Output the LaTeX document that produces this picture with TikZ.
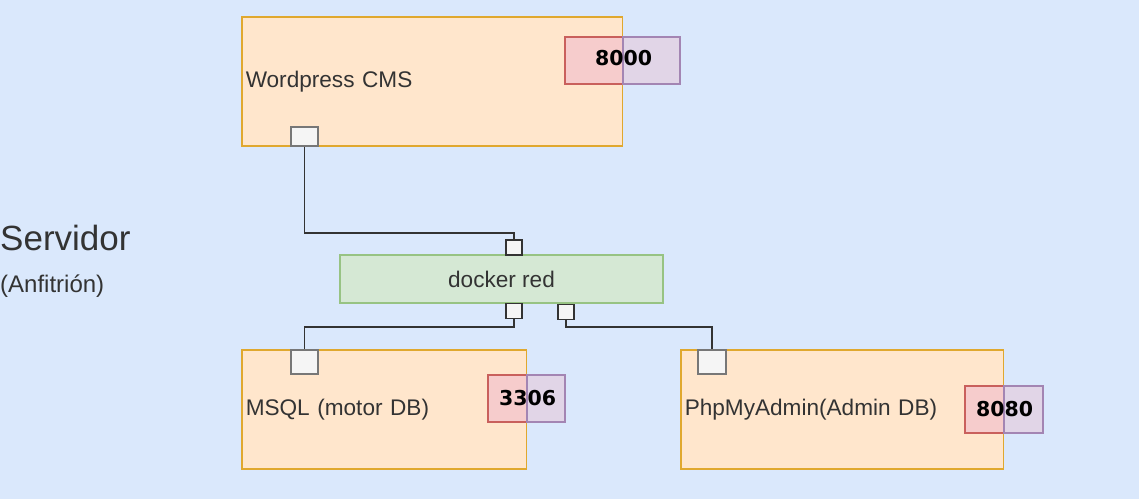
\documentclass[tikz,border=0pt]{standalone}
\usepackage{fontspec}
\setmainfont{Liberation Sans}
\newfontfamily\numfont{DejaVu Sans}
\definecolor{fondo}{HTML}{DAE8FC}
\definecolor{naranja}{HTML}{FFE6CC}
\definecolor{naranjaB}{HTML}{E0A82E}
\definecolor{verde}{HTML}{D5E8D4}
\definecolor{verdeB}{HTML}{97C383}
\definecolor{rojo}{HTML}{F6CCCC}
\definecolor{rojoB}{HTML}{C9605C}
\definecolor{morado}{HTML}{E1D5E7}
\definecolor{moradoB}{HTML}{A385B3}
\definecolor{gris}{HTML}{F5F5F5}
\definecolor{grisB}{HTML}{777777}
\definecolor{linea}{HTML}{333333}
\begin{document}
\begin{tikzpicture}[x=1pt,y=-1pt]
	\tikzstyle{servicio}=[rectangle,draw=naranjaB,fill=naranja,line width=1.5pt,inner xsep=4pt,inner ysep=0pt,align=left,text=linea,font=\fontsize{22.6}{26}\selectfont]
	\tikzstyle{redbox}=[rectangle,draw=verdeB,fill=verde,line width=1.2pt,minimum width=323pt,minimum height=48pt,text=linea,font=\fontsize{22.6}{26}\selectfont]
	\tikzstyle{socket}=[rectangle,draw=grisB,fill=gris,line width=1.5pt,inner sep=0pt]
	\tikzstyle{pin}=[rectangle,draw=linea,fill=gris,line width=1.2pt,inner sep=0pt,minimum width=16pt,minimum height=15pt]
	\tikzstyle{pinin}=[rectangle,draw=rojoB,fill=rojo,line width=1.2pt,inner sep=0pt,minimum height=47pt]
	\tikzstyle{pinout}=[rectangle,draw=moradoB,fill=morado,line width=1.2pt,inner sep=0pt,minimum height=47pt]
	\tikzstyle{numero}=[inner sep=0pt,font=\numfont\bfseries\fontsize{20.5}{24}\selectfont]
	\tikzstyle{enlace}=[draw=linea,line width=1.5pt]
	\useasboundingbox (0,0) rectangle (1139,499);
	\fill[fondo] (0,0) rectangle (1139,499);
	\begin{scope}
		\node [anchor=base west,inner sep=0pt,text=linea,font=\fontsize{35}{40}\selectfont] (srv) at (0,250) {Servidor};
		\node [anchor=base west,inner sep=0pt,text=linea,font=\fontsize{24}{28}\selectfont] (anf) at (0,292) {(Anfitrión)};
		% contenedores
		\node [servicio,minimum height=129pt,text width=372.5pt] (wp) at (432,81.5) {Wordpress CMS};
		\node [servicio,minimum height=119pt,text width=276.5pt] (ms) at (384,409.5) {MSQL (motor DB)};
		\node [servicio,minimum height=119pt,text width=314.5pt] (pm) at (842,409.5) {PhpMyAdmin(Admin DB)};
		\node [redbox] (dk) at (501.5,279) {docker red};
		% puertos
		\node [socket,minimum width=27pt,minimum height=19pt] (wpP) at (304.5,136.5) {};
		\node [socket,minimum width=27pt,minimum height=24pt] (msP) at (304.5,362) {};
		\node [socket,minimum width=28pt,minimum height=24pt] (pmP) at (712,362) {};
		\node [pin] (dkT) at (514,247.5) {};
		\node [pin] (dkL) at (514,311) {};
		\node [pin] (dkR) at (566,312) {};
		\node [pinin,minimum width=58pt] (wpI) at (594,60.5) {};
		\node [pinout,minimum width=57pt] (wpO) at (651.5,60.5) {};
		\node [numero,yshift=2pt] (wpN) at (wpI.east) {8000};
		\node [pinin,minimum width=39pt] (msI) at (507.5,398.5) {};
		\node [pinout,minimum width=38pt] (msO) at (546,398.5) {};
		\node [numero] (msN) at (msI.east) {3306};
		\node [pinin,minimum width=39pt] (pmI) at (984.5,409.5) {};
		\node [pinout,minimum width=39pt] (pmO) at (1023.5,409.5) {};
		\node [numero] (pmN) at (pmI.east) {8080};
		% enlaces
		\path[enlace] (wpP.south) -- ++(0,86) -| (dkT.north);
		\path[enlace] (dkL.south) -- ++(0,8) -| (msP.north);
		\path[enlace] (dkR.south) -- ++(0,7) -| (pmP.north);
	\end{scope}
\end{tikzpicture}
\end{document}
